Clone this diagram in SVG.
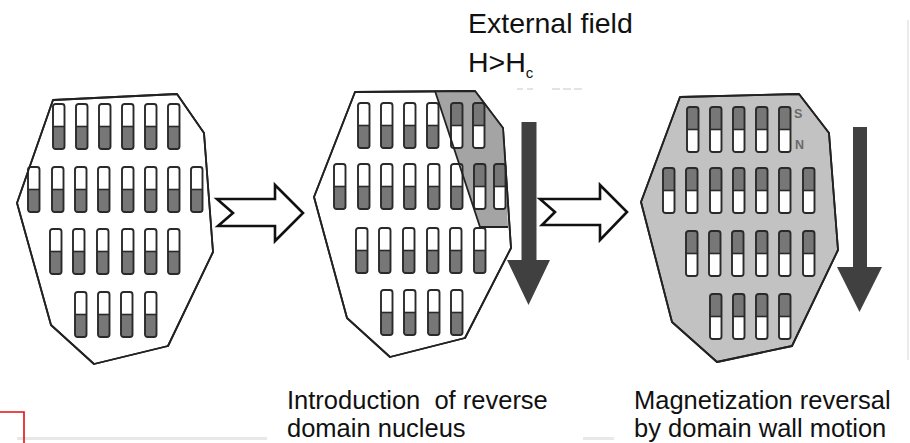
<svg xmlns="http://www.w3.org/2000/svg" xmlns:xlink="http://www.w3.org/1999/xlink" width="910" height="443" viewBox="0 0 910 443">
  <style>
    .grain { stroke: #222; stroke-width: 1.8; stroke-linejoin: round; }
    .edge { fill: none; stroke: #222; stroke-width: 1.8; stroke-linejoin: round; }
    .step { fill: #fff; stroke: #111; stroke-width: 2.6; stroke-linejoin: miter; }
    .field { fill: #404040; }
    .label { font-family: "Liberation Sans", Arial, sans-serif; fill: #111; white-space: pre; }
    .pole { font-family: "Liberation Sans", Arial, sans-serif; font-weight: bold; font-size: 12.5px; fill: #6a6a6a; }
  </style>
  <defs>
    <!-- bar magnet, north half white on top -->
    <g id="mUp">
      <rect x="0" y="0" width="11.5" height="45" rx="2.5" fill="#fff"/>
      <path d="M0 22.5 H11.5 V42.5 Q11.5 45 9 45 H2.5 Q0 45 0 42.5 Z" fill="#777"/>
      <line x1="0" y1="22.5" x2="11.5" y2="22.5" stroke="#2a2a2a" stroke-width="1.6"/>
      <rect x="0" y="0" width="11.5" height="45" rx="2.5" fill="none" stroke="#2a2a2a" stroke-width="1.9"/>
    </g>
    <!-- bar magnet, reversed: grey half on top -->
    <g id="mDn">
      <rect x="0" y="0" width="11.5" height="45" rx="2.5" fill="#fff"/>
      <path d="M0 22.5 H11.5 V2.5 Q11.5 0 9 0 H2.5 Q0 0 0 2.5 Z" fill="#777"/>
      <line x1="0" y1="22.5" x2="11.5" y2="22.5" stroke="#2a2a2a" stroke-width="1.6"/>
      <rect x="0" y="0" width="11.5" height="45" rx="2.5" fill="none" stroke="#2a2a2a" stroke-width="1.9"/>
    </g>
  </defs>

  <rect width="910" height="443" fill="#fff"/>

  <!-- frame remnants -->
  <line x1="908" y1="20" x2="908" y2="360" stroke="#e4e4e4" stroke-width="1.5"/>
  <line x1="17" y1="438.5" x2="267" y2="438.5" stroke="#e8e8e8" stroke-width="3"/>
  <line x1="583" y1="438.5" x2="614" y2="438.5" stroke="#e8e8e8" stroke-width="3"/>
  <path d="M0 412 H24 V443" fill="none" stroke="#e01010" stroke-width="1.6"/>
  <line x1="517" y1="89" x2="535" y2="89" stroke="#c8c8c8" stroke-width="1" stroke-dasharray="6 4"/>
  <line x1="552" y1="89" x2="582" y2="89" stroke="#c8c8c8" stroke-width="1" stroke-dasharray="8 3"/>

  <!-- grain 1: all moments aligned -->
  <g id="grain-initial">
    <polygon class="grain" fill="#fff" points="53,100 177,94 204,133 213,252 168,346 94,364 51,325 17,203"/>
    <use xlink:href="#mUp" x="53" y="104"/><use xlink:href="#mUp" x="76" y="104"/><use xlink:href="#mUp" x="99" y="104"/>
    <use xlink:href="#mUp" x="122" y="104"/><use xlink:href="#mUp" x="145" y="104"/><use xlink:href="#mUp" x="168" y="104"/>
    <use xlink:href="#mUp" x="28" y="167"/><use xlink:href="#mUp" x="52" y="167"/><use xlink:href="#mUp" x="75" y="167"/>
    <use xlink:href="#mUp" x="98" y="167"/><use xlink:href="#mUp" x="122" y="167"/><use xlink:href="#mUp" x="145" y="167"/>
    <use xlink:href="#mUp" x="168" y="167"/><use xlink:href="#mUp" x="191" y="167"/>
    <use xlink:href="#mUp" x="50" y="229"/><use xlink:href="#mUp" x="73" y="229"/><use xlink:href="#mUp" x="97" y="229"/>
    <use xlink:href="#mUp" x="122" y="229"/><use xlink:href="#mUp" x="145" y="229"/><use xlink:href="#mUp" x="168" y="229"/>
    <use xlink:href="#mUp" x="75" y="292"/><use xlink:href="#mUp" x="98" y="292"/><use xlink:href="#mUp" x="121" y="292"/>
    <use xlink:href="#mUp" x="145" y="292"/>
    <polygon class="edge" points="53,100 177,94 204,133 213,252 168,346 94,364 51,325 17,203"/>
  </g>

  <!-- grain 2: reverse domain nucleus in the upper right corner -->
  <g id="grain-nucleus">
    <polygon class="grain" fill="#fff" points="355,92 475,91 503,128 511,248 465,338 390,357 347,318 314,197"/>
    <polygon fill="#a4a4a4" points="435,91 475,91 503,128 508,227 480,227"/>
    <use xlink:href="#mUp" x="358" y="103"/><use xlink:href="#mUp" x="381" y="103"/><use xlink:href="#mUp" x="404" y="103"/>
    <use xlink:href="#mUp" x="427" y="103"/><use xlink:href="#mDn" x="451" y="103"/><use xlink:href="#mDn" x="473" y="103"/>
    <use xlink:href="#mUp" x="334" y="164"/><use xlink:href="#mUp" x="358" y="164"/><use xlink:href="#mUp" x="381" y="164"/>
    <use xlink:href="#mUp" x="404" y="164"/><use xlink:href="#mUp" x="428" y="164"/><use xlink:href="#mUp" x="451" y="164"/>
    <use xlink:href="#mDn" x="474" y="164"/><use xlink:href="#mDn" x="494" y="164"/>
    <use xlink:href="#mUp" x="356" y="228"/><use xlink:href="#mUp" x="379" y="228"/><use xlink:href="#mUp" x="403" y="228"/>
    <use xlink:href="#mUp" x="427" y="228"/><use xlink:href="#mUp" x="450" y="228"/><use xlink:href="#mUp" x="474" y="228"/>
    <use xlink:href="#mUp" x="381" y="290"/><use xlink:href="#mUp" x="404" y="290"/><use xlink:href="#mUp" x="428" y="290"/>
    <use xlink:href="#mUp" x="451" y="290"/>
    <polyline class="edge" points="435,91 480,227 508,227"/>
    <polygon class="edge" points="355,92 475,91 503,128 511,248 465,338 390,357 347,318 314,197"/>
  </g>

  <!-- grain 3: fully reversed -->
  <g id="grain-reversed">
    <polygon class="grain" fill="#c2c2c2" points="680,97 799,94 829,133 838,250 792,346 717,362 672,322 641,202"/>
    <use xlink:href="#mDn" x="687" y="107"/><use xlink:href="#mDn" x="710" y="107"/><use xlink:href="#mDn" x="733" y="107"/>
    <use xlink:href="#mDn" x="756" y="107"/><use xlink:href="#mDn" x="779" y="107"/>
    <use xlink:href="#mDn" x="663" y="168"/><use xlink:href="#mDn" x="686" y="168"/><use xlink:href="#mDn" x="710" y="168"/>
    <use xlink:href="#mDn" x="733" y="168"/><use xlink:href="#mDn" x="756" y="168"/><use xlink:href="#mDn" x="779" y="168"/>
    <use xlink:href="#mDn" x="803" y="168"/>
    <use xlink:href="#mDn" x="686" y="231"/><use xlink:href="#mDn" x="709" y="231"/><use xlink:href="#mDn" x="732" y="231"/>
    <use xlink:href="#mDn" x="756" y="231"/><use xlink:href="#mDn" x="779" y="231"/><use xlink:href="#mDn" x="803" y="231"/>
    <use xlink:href="#mDn" x="710" y="294"/><use xlink:href="#mDn" x="733" y="294"/><use xlink:href="#mDn" x="756" y="294"/>
    <use xlink:href="#mDn" x="779" y="294"/>
    <polygon class="edge" points="680,97 799,94 829,133 838,250 792,346 717,362 672,322 641,202"/>
    <text class="pole" x="794" y="118">S</text>
    <text class="pole" x="795" y="149">N</text>
  </g>

  <!-- applied field -->
  <g id="field-arrows">
    <path class="field" d="M521.5 122 H536.5 V260 H550 L528.5 305 L507 260 H521.5 Z"/>
    <path class="field" d="M853 127 H867 V267 H882 L859.5 312 L837 267 H853 Z"/>
  </g>

  <!-- process steps -->
  <g id="connectors">
    <polygon class="step" points="217,199 275,199 275,185 303,213 275,241 275,226 218,226 233,213"/>
    <polygon class="step" points="540,199 600,199 600,185 627,212 600,240 600,225 542,225 555,212"/>
  </g>

  <g id="labels">
    <text class="label" x="468" y="33" font-size="28.5">External field</text>
    <text class="label" x="468" y="72" font-size="28.5">H&gt;H<tspan font-size="15" dy="6">c</tspan></text>
    <text class="label" x="287" y="409" font-size="25.5" xml:space="preserve">Introduction  of reverse</text>
    <text class="label" x="287" y="437" font-size="25.5">domain nucleus</text>
    <text class="label" x="634" y="409" font-size="25.5">Magnetization reversal</text>
    <text class="label" x="634" y="437" font-size="25.5">by domain wall motion</text>
  </g>
</svg>
